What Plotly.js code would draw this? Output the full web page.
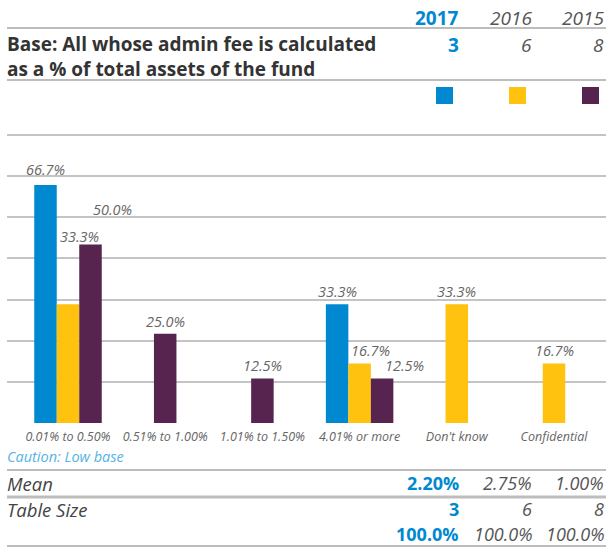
<!DOCTYPE html>
<html>
<head>
<meta charset="utf-8">
<script src="https://cdn.plot.ly/plotly-3.0.1.min.js"></script>
<style>
html,body{margin:0;padding:0;background:#fff;}
#chart{width:606px;height:547px;}
</style>
</head>
<body>
<div id="chart"></div>
<script>
// ---- data ----
const categories = ["0.01% to 0.50%", "0.51% to 1.00%", "1.01% to 1.50%", "4.01% or more", "Don't know", "Confidential"];
const years = ["2017", "2016", "2015"];
const values2017 = [66.7, null, null, 33.3, null, null];
const values2016 = [33.3, null, null, 16.7, 33.3, 16.7];
const values2015 = [50.0, 25.0, 12.5, 12.5, null, null];
const baseSizes = ["3", "6", "8"];
const meanLabels = ["2.20%", "2.75%", "1.00%"];
const tableSizes = ["3", "6", "8"];
const totals = ["100.0%", "100.0%", "100.0%"];

// ---- styles ----
const colors = ["#0089d0", "#ffc20e", "#56244f"];
const FONT = "Open Sans, sans-serif";
const W = 606, H = 547;
const series = [values2017, values2016, values2015];
const barW = 0.2315;           // category units
const labelStep = 11;          // px shift of labels within multi-bar groups
const labelLift = {"0,1": 55, "0,2": 23, "0,0": 3};

const px = x => x / W;
const py = y => 1 - y / H;

// offsets: only bars that exist are centred in their group
const offsets = series.map(() => []);
const labelIdx = series.map(() => []);
for (let j = 0; j < categories.length; j++) {
  const present = series.map((s, i) => s[j] != null ? i : -1).filter(i => i >= 0);
  present.forEach((i, k) => {
    offsets[i][j] = -present.length * barW / 2 + k * barW;
    labelIdx[i][j] = present.length > 1 ? k : 0;
  });
  series.forEach((s, i) => { if (offsets[i][j] === undefined) { offsets[i][j] = 0; labelIdx[i][j] = 0; } });
}

const traces = series.map((s, i) => ({
  type: "bar",
  name: years[i],
  x: categories.map((c, j) => j),
  y: s,
  width: barW,
  offset: offsets[i],
  marker: {color: colors[i], line: {width: 0}},
  hoverinfo: "skip",
  showlegend: false
}));

const annotations = [];
series.forEach((s, i) => {
  s.forEach((v, j) => {
    if (v == null) return;
    annotations.push({
      xref: "x", yref: "y",
      x: j + offsets[i][j] + barW / 2, y: v,
      text: v.toFixed(1) + "%",
      showarrow: false, xanchor: "center", yanchor: "bottom",
      xshift: labelIdx[i][j] * labelStep,
      yshift: 1 + (labelLift[j + "," + i] || 0),
      font: {family: FONT, size: 14.5, color: "#666", style: "italic"}
    });
  });
});

function txt(text, x, y, opts) {
  annotations.push(Object.assign({
    xref: "paper", yref: "paper", x: px(x), y: py(y), text: text,
    showarrow: false, xanchor: "right", yanchor: "middle", borderpad: 0,
    font: {family: FONT, size: 18, color: "#555", style: "italic"}
  }, opts || {}));
}
const colRight = [460, 533, 605];
const blueBold = {family: FONT, size: 19, color: colors[0], weight: 700};
const greyIt = {family: FONT, size: 19, color: "#555", style: "italic"};
const blueBoldT = {family: FONT, size: 18, color: colors[0], weight: 700};
const greyItT = {family: FONT, size: 18, color: "#555", style: "italic"};
years.forEach((yr, i) => txt(yr, colRight[i], 18, {font: i === 0 ? blueBold : greyIt}));
baseSizes.forEach((v, i) => txt(v, colRight[i], 45, {font: i === 0 ? blueBold : greyIt}));
txt("Base: All whose admin fee is calculated<br>as a % of total assets of the fund", 6, 57,
  {xanchor: "left", align: "left", font: {family: FONT, size: 19, color: "#333", weight: 700}});
txt("Caution: Low base", 6, 456, {xanchor: "left", font: {family: FONT, size: 14.5, color: "#55b3e6", style: "italic"}});
txt("Mean", 6, 483, {xanchor: "left", font: {family: FONT, size: 18.5, color: "#444", style: "italic"}});
txt("Table Size", 6, 509, {xanchor: "left", font: {family: FONT, size: 18.5, color: "#444", style: "italic"}});
meanLabels.forEach((v, i) => txt(v, colRight[i], 483, {font: i === 0 ? blueBoldT : greyItT}));
tableSizes.forEach((v, i) => txt(v, colRight[i], 509, {font: i === 0 ? blueBoldT : greyItT}));
totals.forEach((v, i) => txt(v, colRight[i], 533.5, {font: i === 0 ? blueBoldT : greyItT}));

const shapes = [];
function hline(y, w) {
  shapes.push({type: "line", xref: "paper", yref: "paper", x0: px(7), x1: px(606), y0: py(y), y1: py(y),
    line: {color: "#bdbdbd", width: w || 2}});
}
[28, 80, 470, 546].forEach(y => hline(y, 2));
hline(497, 3);
const sqX = [436, 509, 582];
colors.forEach((c, i) => shapes.push({type: "rect", xref: "paper", yref: "paper",
  x0: px(sqX[i]), x1: px(sqX[i] + 17), y0: py(104), y1: py(87), fillcolor: c, line: {width: 0}}));

const layout = {
  width: W, height: H,
  margin: {l: 0, r: 0, t: 0, b: 0, pad: 0},
  paper_bgcolor: "#fff", plot_bgcolor: "#fff",
  barmode: "overlay",
  showlegend: false,
  xaxis: {
    domain: [px(7), 1],
    type: "linear",
    range: [-0.6276, 5.535],
    tickmode: "array",
    tickvals: categories.map((c, j) => j),
    ticktext: categories,
    tickfont: {family: FONT, size: 12.5, color: "#666", style: "italic"},
    ticks: "outside", ticklen: 2, tickcolor: "rgba(0,0,0,0)",
    showgrid: false, zeroline: false, showline: false, fixedrange: true
  },
  yaxis: {
    domain: [(H - 423) / H, (H - 131) / H],
    range: [0, 81.84],
    tick0: 0, dtick: 11.53,
    showticklabels: false, ticks: "",
    showgrid: true, gridcolor: "#c4c4c4", gridwidth: 2,
    zeroline: false, showline: false, fixedrange: true
  },
  shapes: shapes,
  annotations: annotations
};

Plotly.newPlot("chart", traces, layout, {displayModeBar: false, staticPlot: true});
</script>
</body>
</html>
